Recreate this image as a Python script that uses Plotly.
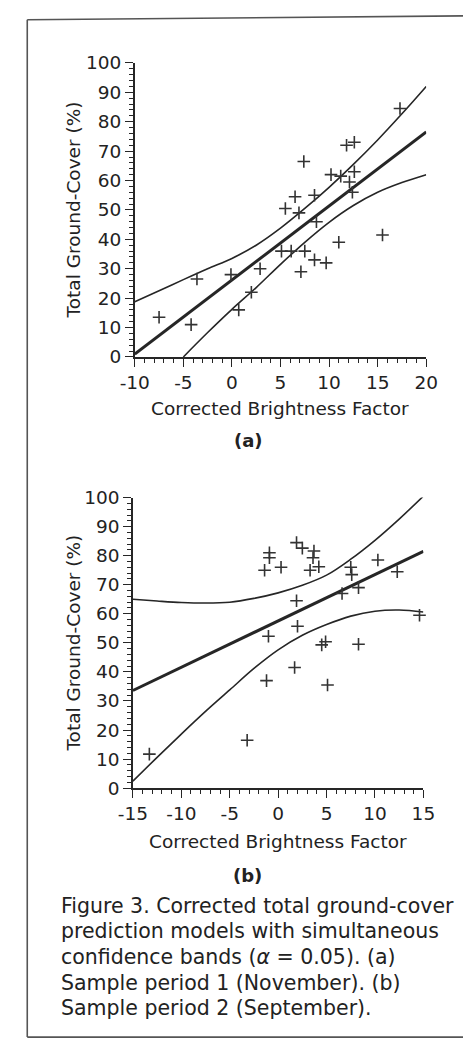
import plotly.graph_objects as go

W, H = 475, 1051

# ---------------- Data: panel (a) ----------------
a_pts_x = [-7.5, -4.2, -3.6, -0.1, 0.7, 2.0, 2.9, 5.1, 5.5, 6.1, 6.5, 6.9, 7.1, 7.4, 7.5,
           8.5, 8.5, 8.7, 9.7, 10.2, 11.0, 11.2, 11.8, 12.1, 12.4, 12.6, 12.6, 15.5, 17.3]
a_pts_y = [13.5, 11, 26.5, 28, 16, 22, 30, 36, 50.5, 36, 54.5, 49, 29, 66.5, 36,
           55, 33, 46, 32, 62, 39, 61.5, 72, 59.5, 56, 63, 73, 41.5, 84.5]
a_fit_x = [-10, 20]
a_fit_y = [1, 76.5]
a_up_x = [-10, -7.5, -5, -2.5, 0, 2.5, 5, 7.5, 10, 12.5, 15, 17.5, 20]
a_up_y = [18.8, 22.5, 26.3, 30.0, 33.5, 38.0, 43.8, 50.5, 57.7, 65.5, 73.8, 82.7, 92]
a_lo_x = [-5, -2.5, 0, 2.5, 5, 7.5, 10, 12.5, 15, 17.5, 20]
a_lo_y = [0, 8.3, 16.2, 23.6, 31.5, 39.0, 45.8, 51.5, 56.0, 59.3, 62]
a_xticks = [-10, -5, 0, 5, 10, 15, 20]
a_xlabels = ["-10", "-5", "0", "5", "10", "15", "20"]

# ---------------- Data: panel (b) ----------------
b_pts_x = [-13.3, -3.2, -1.4, -1.2, -1.0, -0.9, -0.9, 0.3, 1.7, 1.9, 1.9, 2.0, 2.5, 3.3,
           3.6, 3.7, 4.2, 4.5, 4.9, 5.1, 6.6, 7.5, 7.6, 8.3, 8.3, 10.3, 12.3, 14.6]
b_pts_y = [11.7, 16.5, 75, 37, 52.3, 81, 79.3, 76, 41.5, 84.5, 64.5, 55.7, 82.6, 75,
           79.3, 81.6, 76.2, 49.3, 50.4, 35.5, 67, 76, 73.5, 69, 49.5, 78.5, 74.5, 59.5]
b_fit_x = [-15, 15]
b_fit_y = [33.6, 81.5]
b_up_x = [-15, -12.5, -10, -7.5, -5, -2.5, 0, 2.5, 5, 7.5, 10, 12.5, 15]
b_up_y = [65.0, 64.4, 63.9, 63.7, 64.0, 65.3, 67.2, 69.8, 73.3, 78.8, 85.3, 92.6, 100.5]
b_lo_x = [-15, -12.5, -10, -7.5, -5, -2.5, 0, 2.5, 5, 7.5, 10, 12.5, 15]
b_lo_y = [2.4, 10.6, 18.6, 26.4, 33.8, 41.2, 47.6, 52.6, 56.3, 59.2, 60.9, 61.3, 60.6]
b_xticks = [-15, -10, -5, 0, 5, 10, 15]
b_xlabels = ["-15", "-10", "-5", "0", "5", "10", "15"]

y_ticks = [0, 10, 20, 30, 40, 50, 60, 70, 80, 90, 100]

x_title = "Corrected Brightness Factor"
y_title = "Total Ground-Cover (%)"
caption_lines = [
    "Figure 3. Corrected total ground-cover",
    "prediction models with simultaneous",
    "confidence bands (<i>α</i> = 0.05). (a)",
    "Sample period 1 (November). (b)",
    "Sample period 2 (September).",
]

INK = "#262626"
FONT = "DejaVu Sans"

fig = go.Figure()

def add_panel(xa, ya, px, py, fx, fy, ux, uy, lx, ly):
    fig.add_trace(go.Scatter(x=ux, y=uy, mode="lines", line=dict(color=INK, width=1.6, shape="spline"),
                             xaxis=xa, yaxis=ya, showlegend=False, hoverinfo="skip"))
    fig.add_trace(go.Scatter(x=lx, y=ly, mode="lines", line=dict(color=INK, width=1.6, shape="spline"),
                             xaxis=xa, yaxis=ya, showlegend=False, hoverinfo="skip"))
    fig.add_trace(go.Scatter(x=fx, y=fy, mode="lines", line=dict(color=INK, width=3),
                             xaxis=xa, yaxis=ya, showlegend=False, hoverinfo="skip"))
    fig.add_trace(go.Scatter(x=px, y=py, mode="markers", cliponaxis=False,
                             marker=dict(symbol="cross-thin", size=9, line=dict(color="#333", width=1.6)),
                             xaxis=xa, yaxis=ya, showlegend=False))

add_panel("x", "y", a_pts_x, a_pts_y, a_fit_x, a_fit_y, a_up_x, a_up_y, a_lo_x, a_lo_y)
add_panel("x2", "y2", b_pts_x, b_pts_y, b_fit_x, b_fit_y, b_up_x, b_up_y, b_lo_x, b_lo_y)

def px2paper_x(p):
    return p / W

def px2paper_y(p):
    return (H - p) / H

axis_common = dict(showline=True, linecolor=INK, linewidth=1.5, ticks="outside", ticklen=8,
                   tickwidth=1.3, tickcolor=INK, showgrid=False, zeroline=False,
                   tickfont=dict(family=FONT, size=18.5, color="#222"))
minor_x = dict(dtick=1, ticks="outside", ticklen=4, tickcolor=INK, tickwidth=1.1)
minor_y = dict(dtick=2, ticks="outside", ticklen=4, tickcolor=INK, tickwidth=1.1)

fig.update_layout(
    width=W, height=H, margin=dict(l=0, r=0, t=0, b=0, pad=0),
    paper_bgcolor="white", plot_bgcolor="white",
    xaxis=dict(domain=[px2paper_x(127), px2paper_x(436)], range=[-10, 20],
               tickmode="array", tickvals=a_xticks, ticktext=a_xlabels,
               minor=minor_x, anchor="y", **axis_common),
    yaxis=dict(domain=[px2paper_y(353), px2paper_y(53)], range=[0, 100],
               tickmode="array", tickvals=y_ticks,
               minor=minor_y, anchor="x", **axis_common),
    xaxis2=dict(domain=[px2paper_x(125), px2paper_x(433)], range=[-15, 15],
                tickmode="array", tickvals=b_xticks, ticktext=b_xlabels,
                minor=minor_x, anchor="y2", **axis_common),
    yaxis2=dict(domain=[px2paper_y(793), px2paper_y(496.5)], range=[0, 100],
                tickmode="array", tickvals=y_ticks,
                minor=minor_y, anchor="x2", **axis_common),
)

ann = []
def text(x, y, s, size, bold=False, angle=0, xanchor="center"):
    ann.append(dict(x=px2paper_x(x), y=px2paper_y(y), xref="paper", yref="paper", text=s,
                    showarrow=False, textangle=angle, xanchor=xanchor, yanchor="middle",
                    font=dict(family=FONT, size=size, color="#222",
                              weight="bold" if bold else "normal")))

# axis titles
text(281, 406, x_title, 18.5)
text(279, 847, x_title, 18.5)
text(62, 203, y_title, 18.5, angle=-90)
text(62, 645, y_title, 18.5, angle=-90)
# panel labels
text(248, 438, "(a)", 18, bold=True)
text(247, 882, "(b)", 18, bold=True)
# caption
for i, line in enumerate(caption_lines):
    text(47, 913 + i * 26.2, line, 20.5, xanchor="left")

fig.update_layout(annotations=ann)

# frame around the figure
frame = dict(type="line", xref="paper", yref="paper", line=dict(color="#555", width=1.6))
fig.update_layout(shapes=[
    dict(frame, x0=px2paper_x(13), x1=px2paper_x(13), y0=px2paper_y(1047), y1=px2paper_y(9)),
    dict(frame, x0=px2paper_x(13), x1=px2paper_x(475), y0=px2paper_y(9), y1=px2paper_y(5)),
    dict(frame, x0=px2paper_x(13), x1=px2paper_x(475), y0=px2paper_y(1047), y1=px2paper_y(1047)),
])

fig.write_html("out.html")
